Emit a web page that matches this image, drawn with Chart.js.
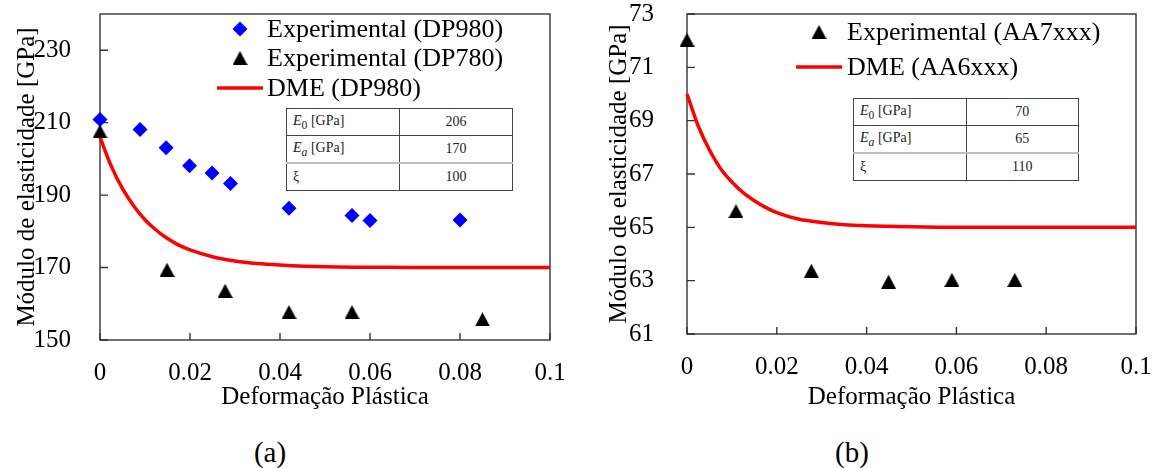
<!DOCTYPE html>
<html lang="pt">
<head>
<meta charset="utf-8">
<script src="https://cdn.jsdelivr.net/npm/chart.js@4.4.1/dist/chart.umd.min.js"></script>
<style>
  html, body { margin: 0; padding: 0; background: #fff; }
  #wrap { position: relative; width: 1157px; height: 468px; background: #fff; overflow: hidden; }
  #chartA { position: absolute; left: 0; top: 0; }
  #chartB { position: absolute; left: 578px; top: 0; }
  table.params {
    position: absolute; border-collapse: collapse; background: #fff;
    font: 14px "Liberation Serif", "Times New Roman", serif; color: #222;
  }
  table.params td { border: 1px solid #444; height: 26px; padding: 0 6px; width: 101px; }
  table.params td.v { text-align: center; }
  table.params tr.last td { border-top: 2px solid #bdbdbd; }
  #tabA { left: 286px; top: 108px; width: 227px; }
  #tabB { left: 853px; top: 98px; width: 226px; }
  .cap { position: absolute; top: 435px; width: 60px; text-align: center; line-height: 34px;
         font-size: 29px; font-family: "Liberation Serif", "Times New Roman", serif; color: #000; }
  #capA { left: 240px; }
  #capB { left: 822px; }
</style>
</head>
<body>
<div id="wrap">
  <canvas id="chartA" width="578" height="420"></canvas>
  <canvas id="chartB" width="579" height="420"></canvas>
  <table class="params" id="tabA"></table>
  <table class="params" id="tabB"></table>
  <div class="cap" id="capA">(a)</div>
  <div class="cap" id="capB">(b)</div>
</div>
<script>
// (a) aços DP
const strainDP980 = [0, 0.0089, 0.0147, 0.0199, 0.0249, 0.029, 0.042, 0.056, 0.060, 0.080];
const modDP980 = [210.9, 208.1, 203.1, 198.1, 196.1, 193.2, 186.4, 184.4, 183.0, 183.1];
const strainDP780 = [0, 0.0149, 0.0278, 0.042, 0.056, 0.085];
const modDP780 = [207.6, 169.4, 163.6, 157.7, 157.7, 155.7];
const strainDmeA = [0, 0.0025, 0.005, 0.0075, 0.01, 0.0125, 0.015, 0.0175, 0.02, 0.025, 0.03, 0.035, 0.04, 0.05, 0.06, 0.07, 0.08, 0.09, 0.1];
const modDmeA = [206, 198.0, 191.8, 187.0, 183.2, 180.3, 178.0, 176.2, 174.9, 173.0, 171.8, 171.1, 170.7, 170.2, 170.1, 170.0, 170, 170, 170];

// (b) ligas de alumínio
const strainAA7 = [0, 0.0109, 0.0277, 0.0449, 0.059, 0.073];
const modAA7 = [72.03, 65.61, 63.37, 62.96, 63.03, 63.03];
const strainDmeB = [0, 0.0025, 0.005, 0.0075, 0.01, 0.0125, 0.015, 0.0175, 0.02, 0.025, 0.03, 0.035, 0.04, 0.05, 0.06, 0.07, 0.08, 0.09, 0.1];
const modDmeB = [70, 68.8, 67.9, 67.2, 66.7, 66.3, 66.0, 65.75, 65.55, 65.3, 65.18, 65.1, 65.06, 65.02, 65.0, 65, 65, 65, 65];

const xTicks = [0, 0.02, 0.04, 0.06, 0.08, 0.1];
const yTicksA = [150, 170, 190, 210, 230];
const yTicksB = [61, 63, 65, 67, 69, 71, 73];

// parâmetros do modelo DME
const paramNames = ['<i>E</i><sub>0</sub> [GPa]', '<i>E<sub>a</sub></i> [GPa]', 'ξ'];
const paramsA = [206, 170, 100];
const paramsB = [70, 65, 110];

function fillTable(id, values) {
  document.getElementById(id).innerHTML = values.map((v, i) =>
    '<tr' + (i === 2 ? ' class="last"' : '') + '><td>' + paramNames[i] + '</td><td class="v">' + v + '</td></tr>'
  ).join('');
}
fillTable('tabA', paramsA);
fillTable('tabB', paramsB);

const pts = (xs, ys) => xs.map((x, i) => ({ x: x, y: ys[i] }));

// triângulo cheio centrado no ponto (como no Excel)
function triangleSprite(w, h, color) {
  const c = document.createElement('canvas');
  c.width = w; c.height = h;
  const g = c.getContext('2d');
  g.fillStyle = color;
  g.beginPath();
  g.moveTo(w / 2, 0);
  g.lineTo(w, h);
  g.lineTo(0, h);
  g.closePath();
  g.fill();
  return c;
}
const tri = triangleSprite(15, 14, '#000');

const SERIF = '"Liberation Serif", "Times New Roman", serif';

// moldura + marcas de escala para dentro
const framePlugin = {
  id: 'frame',
  beforeDatasetsDraw(chart) {
    const { ctx, chartArea: a, scales } = chart;
    ctx.save();
    ctx.strokeStyle = '#333';
    ctx.lineWidth = 1.4;
    ctx.strokeRect(a.left, a.top, a.right - a.left, a.bottom - a.top);
    ctx.beginPath();
    scales.x.ticks.forEach(t => {
      const px = scales.x.getPixelForValue(t.value);
      ctx.moveTo(px, a.bottom);
      ctx.lineTo(px, a.bottom - 7);
    });
    scales.y.ticks.forEach(t => {
      const py = scales.y.getPixelForValue(t.value);
      ctx.moveTo(a.left, py);
      ctx.lineTo(a.left + 8, py);
    });
    ctx.stroke();
    ctx.restore();
  }
};

// legenda desenhada dentro da área do gráfico
const innerLegend = {
  id: 'innerLegend',
  afterDraw(chart, args, opts) {
    const ctx = chart.ctx;
    ctx.save();
    ctx.font = '26px ' + SERIF;
    ctx.textBaseline = 'middle';
    chart.data.datasets.forEach((ds, i) => {
      const y = opts.rows[i];
      if (ds.showLine) {
        ctx.strokeStyle = ds.borderColor;
        ctx.lineWidth = ds.borderWidth;
        ctx.beginPath();
        ctx.moveTo(opts.x - 23, y);
        ctx.lineTo(opts.x + 23, y);
        ctx.stroke();
      } else {
        ctx.fillStyle = ds.backgroundColor;
        Chart.helpers.drawPoint(ctx, { pointStyle: ds.pointStyle, radius: ds.pointRadius, rotation: 0, borderWidth: 0 }, opts.x, y);
      }
      ctx.fillStyle = '#000';
      ctx.fillText(ds.label, opts.textX, y + 1);
    });
    ctx.restore();
  }
};

// a área do gráfico fica fixa: sem folga extra pelos rótulos das escalas
function noScalePadding(s) {
  s.paddingTop = 0; s.paddingBottom = 0;
  s.paddingLeft = 0; s.paddingRight = 0;
}

function makeChart(id, datasets, yMin, yMax, yTicks, layout, legend) {
  return new Chart(document.getElementById(id), {
    type: 'scatter',
    data: { datasets: datasets },
    options: {
      responsive: false,
      animation: false,
      events: [],
      layout: { padding: { left: 0, top: 14, right: layout.right, bottom: 0 } },
      plugins: { legend: { display: false }, tooltip: { enabled: false }, innerLegend: legend },
      scales: {
        x: {
          type: 'linear', min: 0, max: 0.1,
          grid: { display: false }, border: { display: false },
          afterBuildTicks: s => { s.ticks = xTicks.map(v => ({ value: v })); },
          afterFit: s => { s.height = layout.xHeight; noScalePadding(s); },
          ticks: { color: '#000', padding: 10, maxRotation: 0, callback: v => String(v), font: { family: SERIF, size: 25 } },
          title: { display: true, text: 'Deformação Plástica', color: '#000', padding: { top: 0, bottom: 8 }, font: { family: SERIF, size: 25 } }
        },
        y: {
          type: 'linear', min: yMin, max: yMax,
          grid: { display: false }, border: { display: false },
          afterBuildTicks: s => { s.ticks = yTicks.map(v => ({ value: v })); },
          afterFit: s => { s.width = layout.yWidth; noScalePadding(s); },
          ticks: { color: '#000', padding: layout.yPad, font: { family: SERIF, size: 25 } },
          title: { display: true, text: 'Módulo de elasticidade [GPa]', color: '#000', padding: { top: layout.titlePad, bottom: 0 }, font: { family: SERIF, size: 25 } }
        }
      }
    },
    plugins: [framePlugin, innerLegend]
  });
}

makeChart('chartA', [
  { label: 'Experimental (DP980)', data: pts(strainDP980, modDP980), pointStyle: 'rectRot', pointRadius: 7.5,
    backgroundColor: '#0000ff', borderWidth: 0, clip: false },
  { label: 'Experimental (DP780)', data: pts(strainDP780, modDP780), pointStyle: tri, pointRadius: 7.5,
    backgroundColor: '#000', borderWidth: 0, clip: false },
  { label: 'DME (DP980)', data: pts(strainDmeA, modDmeA), showLine: true, pointRadius: 0,
    borderColor: '#ff0000', borderWidth: 3.5, cubicInterpolationMode: 'monotone', clip: false }
], 150, 240, yTicksA, { right: 28, xHeight: 80, yWidth: 100, yPad: 21, titlePad: 12 },
   { x: 240, textX: 267, rows: [29, 58, 88] });

makeChart('chartB', [
  { label: 'Experimental (AA7xxx)', data: pts(strainAA7, modAA7), pointStyle: tri, pointRadius: 7.5,
    backgroundColor: '#000', borderWidth: 0, clip: false },
  { label: 'DME (AA6xxx)', data: pts(strainDmeB, modDmeB), showLine: true, pointRadius: 0,
    borderColor: '#ff0000', borderWidth: 3.5, cubicInterpolationMode: 'monotone', clip: false }
], 61, 73, yTicksB, { right: 21, xHeight: 86, yWidth: 109, yPad: 25, titlePad: 26 },
   { x: 241, textX: 269, rows: [32, 67] });
</script>
</body>
</html>
